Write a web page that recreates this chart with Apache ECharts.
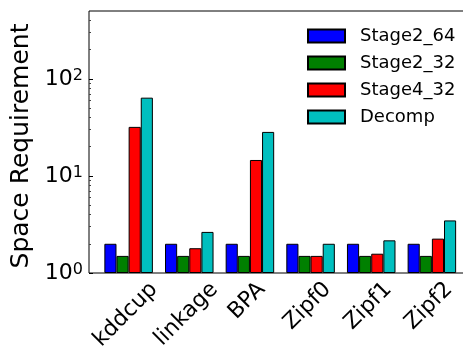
<!DOCTYPE html>
<html>
<head>
<meta charset="utf-8">
<style>
  html, body { margin: 0; padding: 0; background: #fff; }
  #chart { width: 463px; height: 348px; }
</style>
<script src="https://cdn.jsdelivr.net/npm/echarts@6/dist/echarts.min.js"></script>
</head>
<body>
<div id="chart"></div>
<script>
// data
const categories = ["kddcup", "linkage", "BPA", "Zipf0", "Zipf1", "Zipf2"];
const seriesNames = ["Stage2_64", "Stage2_32", "Stage4_32", "Decomp"];
const stage2_64 = [2.0, 2.0, 2.0, 2.0, 2.0, 2.0];
const stage2_32 = [1.5, 1.5, 1.5, 1.5, 1.5, 1.5];
const stage4_32 = [32, 1.8, 14.6, 1.5, 1.58, 2.26];
const decomp = [64, 2.65, 28.4, 2.0, 2.17, 3.48];
const majorTicks = [1, 10, 100];
const minorTicks = [2, 3, 4, 5, 6, 7, 8, 9, 20, 30, 40, 50, 60, 70, 80, 90, 200, 300, 400];

const colors = ["#0000ff", "#008000", "#ff0000", "#00bfbf"];
const FONT = '"DejaVu Sans", "Bitstream Vera Sans", sans-serif';
const Y_MIN = 1, Y_MAX = 500;

// rotated labels: echarts anchors the end of the text, matplotlib centres the box
// under the tick, so shift each one (newline trick for the perpendicular part)
const LABEL_MARGIN = -30;
const AXIS_Y = 273;
const LABEL_TOP = 277;
const NUDGE = 2.1; // small shift to the left
const ctx = document.createElement("canvas").getContext("2d");
ctx.font = "22px " + FONT;
const xLabels = categories.map((name) => {
  const w = ctx.measureText(name).width;
  const D = LABEL_TOP - (AXIS_Y + LABEL_MARGIN) + (w + 25.6) / (2 * Math.SQRT2);
  return {
    value: name,
    textStyle: {
      lineHeight: Math.SQRT2 * D - 2 * NUDGE,
      padding: [0, Math.max(0, D / Math.SQRT2 - w / 2 + NUDGE), 0, 0],
    },
  };
});

const allSeries = [stage2_64, stage2_32, stage4_32, decomp];

let myChart = echarts.init(document.getElementById("chart"), null, { renderer: "canvas" });

let option = {
  animation: false,
  backgroundColor: "#fff",
  textStyle: { fontFamily: FONT, color: "#000" },
  grid: [
    // frame
    { left: 89, top: 11, width: 375, height: 262, show: true, borderColor: "#000", borderWidth: 1,
      backgroundColor: "transparent", outerBoundsMode: "none", containLabel: false },
    // bars
    { left: 98.3, top: 11, width: 363.9, height: 262, outerBoundsMode: "none", containLabel: false },
  ],
  legend: {
    orient: "vertical",
    left: 307,
    top: 27,
    padding: 0,
    itemWidth: 37,
    itemHeight: 13,
    itemGap: 9,
    icon: "rect",
    data: seriesNames,
    textStyle: { fontSize: 18, fontFamily: FONT, color: "#000", lineHeight: 18, padding: [0, 0, 0, 10] },
  },
  xAxis: [
    { gridIndex: 0, type: "value", min: 0, max: 1, show: false },
    {
      gridIndex: 1,
      type: "category",
      data: xLabels,
      axisLine: { show: false },
      axisTick: { show: false },
      axisLabel: {
        interval: 0,
        rotate: 45,
        margin: LABEL_MARGIN,
        fontSize: 22,
        fontFamily: FONT,
        color: "#000",
        formatter: (v) => "\n" + v,
      },
    },
    {
      gridIndex: 1,
      type: "category",
      position: "top",
      data: categories,
      axisLine: { show: false },
      axisTick: { inside: true, alignWithLabel: true, length: 3, lineStyle: { color: "#000" } },
      axisLabel: { show: false },
    },
  ],
  yAxis: [
    {
      gridIndex: 0,
      type: "log",
      logBase: 10,
      min: Y_MIN,
      max: Y_MAX,
      name: "Space Requirement",
      nameLocation: "middle",
      nameGap: 39,
      nameTextStyle: { fontSize: 25, fontFamily: FONT, color: "#000", padding: [0, 8, 0, 0] },
      axisLine: { show: false },
      splitLine: { show: false },
      axisTick: { inside: true, length: 4, customValues: majorTicks, lineStyle: { color: "#000" } },
      axisLabel: {
        customValues: majorTicks,
        margin: 6,
        formatter: (v) => "{b|10}{s|" + Math.round(Math.log10(v)) + "}",
        rich: {
          b: { fontSize: 22, lineHeight: 22, fontFamily: FONT, color: "#000" },
          s: { fontSize: 16, lineHeight: 5, verticalAlign: "top", fontFamily: FONT, color: "#000" },
        },
      },
    },
    {
      gridIndex: 0,
      type: "log",
      logBase: 10,
      min: Y_MIN,
      max: Y_MAX,
      position: "left",
      offset: 0,
      axisLine: { show: false },
      splitLine: { show: false },
      axisLabel: { show: false },
      axisTick: { inside: true, length: 2, customValues: minorTicks, lineStyle: { color: "#444" } },
    },
    { gridIndex: 1, type: "log", logBase: 10, min: Y_MIN, max: Y_MAX, show: false },
  ],
  series: seriesNames.map((name, i) => ({
    name: name,
    type: "bar",
    xAxisIndex: 1,
    yAxisIndex: 2,
    data: allSeries[i],
    barWidth: 12.13,
    barGap: "0%",
    itemStyle: { color: colors[i], borderColor: "#000", borderWidth: 1 },
    emphasis: { disabled: true },
  })),
};

myChart.setOption(option);
</script>
</body>
</html>
